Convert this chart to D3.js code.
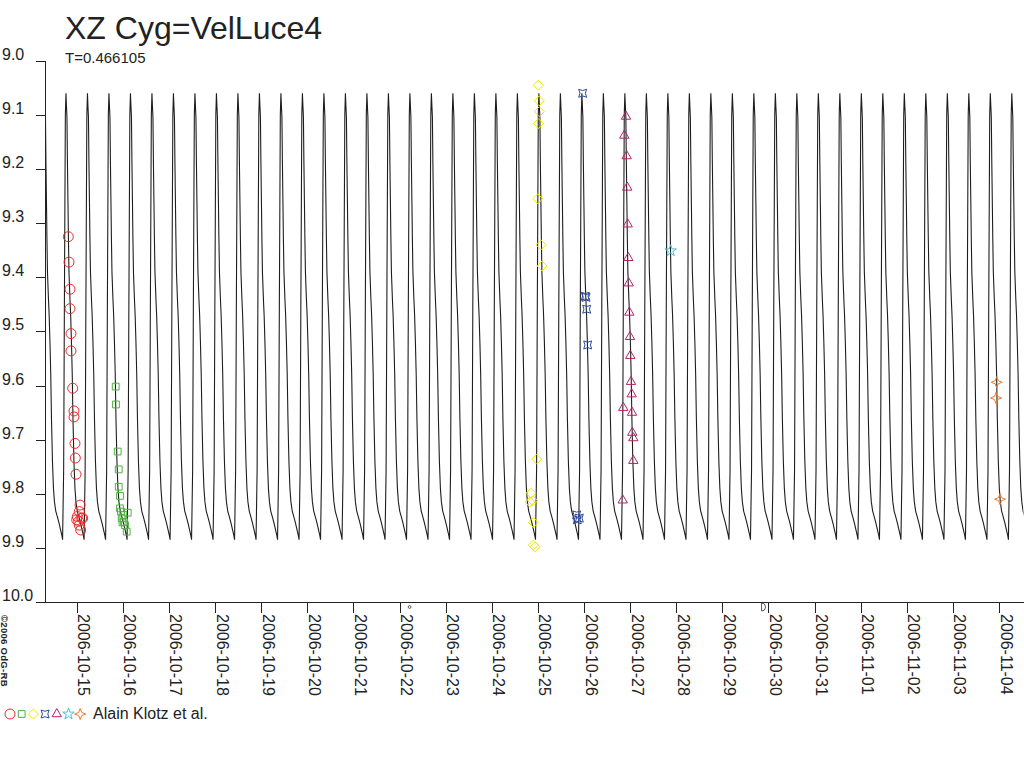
<!DOCTYPE html>
<html>
<head>
<meta charset="utf-8">
<script src="https://cdn.jsdelivr.net/npm/d3@7"></script>
<style>
  body { margin: 0; background: #fff; }
  svg { display: block; font-family: "Liberation Sans", Arial, sans-serif; }
</style>
</head>
<body>
<div id="wrapper"></div>
<script>
// times are JD - 2454000, magnitudes in V
const period = 0.466105
const epochMax = 23.267

// one cycle of the model light curve, [phase, mag]
const template = [
  [0.000, 9.060], [0.025, 9.085], [0.047, 9.105], [0.070, 9.190],
  [0.093, 9.260], [0.116, 9.330], [0.140, 9.390], [0.186, 9.440],
  [0.219, 9.470], [0.256, 9.520], [0.293, 9.580], [0.326, 9.660],
  [0.372, 9.740], [0.419, 9.790], [0.465, 9.815], [0.526, 9.832],
  [0.605, 9.843], [0.684, 9.855], [0.758, 9.868], [0.814, 9.878],
  [0.843, 9.885], [0.893, 9.756], [0.926, 9.460], [0.972, 9.100]
]

// observations, [JD - 2454000, mag]
const circles = [
  [23.318, 9.325], [23.333, 9.372], [23.355, 9.422], [23.355, 9.458],
  [23.376, 9.504], [23.376, 9.536], [23.413, 9.605], [23.441, 9.647],
  [23.441, 9.658], [23.463, 9.707], [23.470, 9.734], [23.485, 9.764],
  [23.572, 9.821], [23.556, 9.833], [23.513, 9.842], [23.608, 9.845],
  [23.500, 9.848], [23.543, 9.851], [23.630, 9.845], [23.556, 9.858],
  [23.587, 9.867]
]
const squares = [
  [24.346, 9.602], [24.352, 9.635], [24.389, 9.722], [24.411, 9.755],
  [24.411, 9.787], [24.439, 9.804], [24.439, 9.827], [24.461, 9.833],
  [24.510, 9.839], [24.476, 9.845], [24.606, 9.835], [24.526, 9.852],
  [24.547, 9.858], [24.584, 9.870], [24.493, 9.853]
]
const diamonds = [
  [33.509, 9.045], [33.530, 9.074], [33.530, 9.094], [33.509, 9.116],
  [33.496, 9.255], [33.567, 9.340], [33.589, 9.379], [33.474, 9.736],
  [33.350, 9.799], [33.329, 9.815], [33.387, 9.813], [33.400, 9.853],
  [33.437, 9.898], [33.400, 9.895]
]
const quads = [
  [34.471, 9.060], [34.543, 9.437], [34.528, 9.435], [34.558, 9.459],
  [34.580, 9.525], [34.341, 9.839], [34.398, 9.845], [34.354, 9.848]
]
const triangles = [
  [35.410, 9.103], [35.373, 9.138], [35.425, 9.176], [35.438, 9.234],
  [35.447, 9.302], [35.460, 9.364], [35.469, 9.411], [35.482, 9.465],
  [35.497, 9.510], [35.503, 9.545], [35.519, 9.593], [35.534, 9.616],
  [35.352, 9.641], [35.541, 9.650], [35.547, 9.687], [35.569, 9.697],
  [35.569, 9.739], [35.339, 9.812]
]
const stars = [[36.379, 9.351]]
const sparkles = [[43.448, 9.594], [43.433, 9.623], [43.520, 9.810]]

const moonPhases = [
  { jd: 30.718, kind: "new" },
  { jd: 38.393, kind: "first" }
]

const magTicks = [9.0, 9.1, 9.2, 9.3, 9.4, 9.5, 9.6, 9.7, 9.8, 9.9, 10.0]
const observer = "Alain Klotz et al."

const width = 1024, height = 768

// custom symbols
const symDiamond = { draw(c, s) { const r = Math.sqrt(s) / 2; c.moveTo(0, -r); c.lineTo(r, 0); c.lineTo(0, r); c.lineTo(-r, 0); c.closePath() } }
const symQuad = { draw(c, s) {
  const r = Math.sqrt(s) / 2, k = r * 0.35
  c.moveTo(-r, -r); c.quadraticCurveTo(0, -k, r, -r)
  c.quadraticCurveTo(k, 0, r, r)
  c.quadraticCurveTo(0, k, -r, r)
  c.quadraticCurveTo(-k, 0, -r, -r)
  c.closePath()
} }
const symSparkle = { draw(c, s) {
  const r = Math.sqrt(s) / 2, k = r * 0.28
  c.moveTo(0, -r); c.lineTo(k, -k); c.lineTo(r, 0); c.lineTo(k, k)
  c.lineTo(0, r); c.lineTo(-k, k); c.lineTo(-r, 0); c.lineTo(-k, -k); c.closePath()
} }

const series = [
  { data: circles, color: "#f02828", type: d3.symbolCircle, size: 78 },
  { data: squares, color: "#4cb43c", type: d3.symbolSquare, size: 46 },
  { data: diamonds, color: "#f2e600", type: symDiamond, size: 100 },
  { data: quads, color: "#2c4c9c", type: symQuad, size: 64 },
  { data: triangles, color: "#b0246c", type: d3.symbolTriangle, size: 38 },
  { data: stars, color: "#48c4d8", type: d3.symbolStar, size: 42 },
  { data: sparkles, color: "#f07828", type: symSparkle, size: 121 }
]

const jdToDate = jd => new Date((jd + 2454000 - 2440587.5) * 864e5)

const x = d3.scaleUtc()
  .domain([jdToDate(22.6175), jdToDate(44.040)])
  .range([36, 1024])
const y = d3.scaleLinear()
  .domain([9, 10])
  .range([60.8, 602])

const svg = d3.select("#wrapper").append("svg")
  .attr("width", width)
  .attr("height", height)

svg.append("defs").append("clipPath").attr("id", "plot")
  .append("rect").attr("x", 45.5).attr("y", 0).attr("width", 978).attr("height", 602)

// model curve, template repeated with the period
const [t0, t1] = x.domain().map(d => d / 864e5 + 2440587.5 - 2454000)
const curve = []
for (let n = Math.floor((t0 - epochMax) / period) - 1; epochMax + n * period < t1 + period; n++) {
  template.forEach(([ph, m]) => curve.push([epochMax + (n + ph) * period, m]))
}

svg.append("path")
  .attr("clip-path", "url(#plot)")
  .attr("fill", "none")
  .attr("stroke", "#1e1e1e")
  .attr("stroke-width", 1.1)
  .attr("d", d3.line().x(d => x(jdToDate(d[0]))).y(d => y(d[1]))(curve))

// axes
const xAxis = svg.append("g")
  .attr("transform", "translate(0,602)")
  .call(d3.axisBottom(x)
    .ticks(d3.utcDay.every(1))
    .tickFormat(d3.utcFormat("%Y-%m-%d"))
    .tickSize(11)
    .tickSizeOuter(0))
xAxis.selectAll("line, path").attr("stroke", "#222").attr("shape-rendering", "crispEdges")
xAxis.selectAll("text")
  .attr("transform", "rotate(90)")
  .attr("x", 12).attr("y", -1).attr("dy", 0)
  .attr("text-anchor", "start")
  .attr("fill", "#222")
  .style("font-size", "16px")
  .style("font-family", "'Liberation Sans', Arial, sans-serif")

const yAxis = svg.append("g")
  .attr("transform", "translate(45,0)")
  .call(d3.axisLeft(y)
    .tickValues(magTicks)
    .tickFormat(d3.format(".1f"))
    .tickSize(9)
    .tickSizeOuter(0))
yAxis.selectAll("line, path").attr("stroke", "#222").attr("shape-rendering", "crispEdges")
yAxis.selectAll("text")
  .attr("x", -43).attr("dy", -1.5)
  .attr("text-anchor", "start")
  .attr("fill", "#222")
  .style("font-size", "16px")
  .style("font-family", "'Liberation Sans', Arial, sans-serif")

// observations
series.forEach(s => {
  svg.append("g")
    .selectAll("path")
    .data(s.data)
    .join("path")
    .attr("transform", d => `translate(${x(jdToDate(d[0]))},${y(d[1])})`)
    .attr("d", d3.symbol(s.type, s.size))
    .attr("fill", "none")
    .attr("stroke", s.color)
    .attr("stroke-width", 1)
})

// moon phases under the axis
moonPhases.forEach(p => {
  const mx = x(jdToDate(p.jd))
  if (p.kind === "new") {
    svg.append("circle").attr("cx", mx).attr("cy", 607).attr("r", 1.4)
      .attr("fill", "none").attr("stroke", "#333").attr("stroke-width", 0.8)
  } else {
    const pth = d3.path()
    pth.moveTo(mx - 2, 603)
    pth.lineTo(mx - 2, 611)
    pth.arc(mx - 2, 607, 4, Math.PI / 2, -Math.PI / 2, true)
    svg.append("path").attr("d", pth.toString())
      .attr("fill", "none").attr("stroke", "#333").attr("stroke-width", 0.8)
  }
})

// titles
svg.append("text")
  .attr("x", 65).attr("y", 39)
  .attr("fill", "#222")
  .style("font-size", "32px")
  .text("XZ Cyg=VelLuce4")
svg.append("text")
  .attr("x", 65).attr("y", 63)
  .attr("fill", "#222")
  .style("font-size", "15px")
  .text("T=" + period)

svg.append("text")
  .attr("transform", "translate(1,615) rotate(90)")
  .attr("fill", "#222")
  .style("font-size", "9.5px")
  .style("font-weight", "bold")
  .style("letter-spacing", "0.3px")
  .text("©2006 OdG-RB")

// legend
const legend = svg.append("g").attr("transform", "translate(0,714)")
legend.selectAll("path")
  .data(series)
  .join("path")
  .attr("transform", (d, i) => `translate(${10 + i * 11.7},0)`)
  .attr("d", d => d3.symbol(d.type, d.size)())
  .attr("fill", "none")
  .attr("stroke", d => d.color)
legend.append("text")
  .attr("x", 93).attr("y", 5)
  .attr("fill", "#222")
  .style("font-size", "16px")
  .text(observer)
</script>
</body>
</html>
